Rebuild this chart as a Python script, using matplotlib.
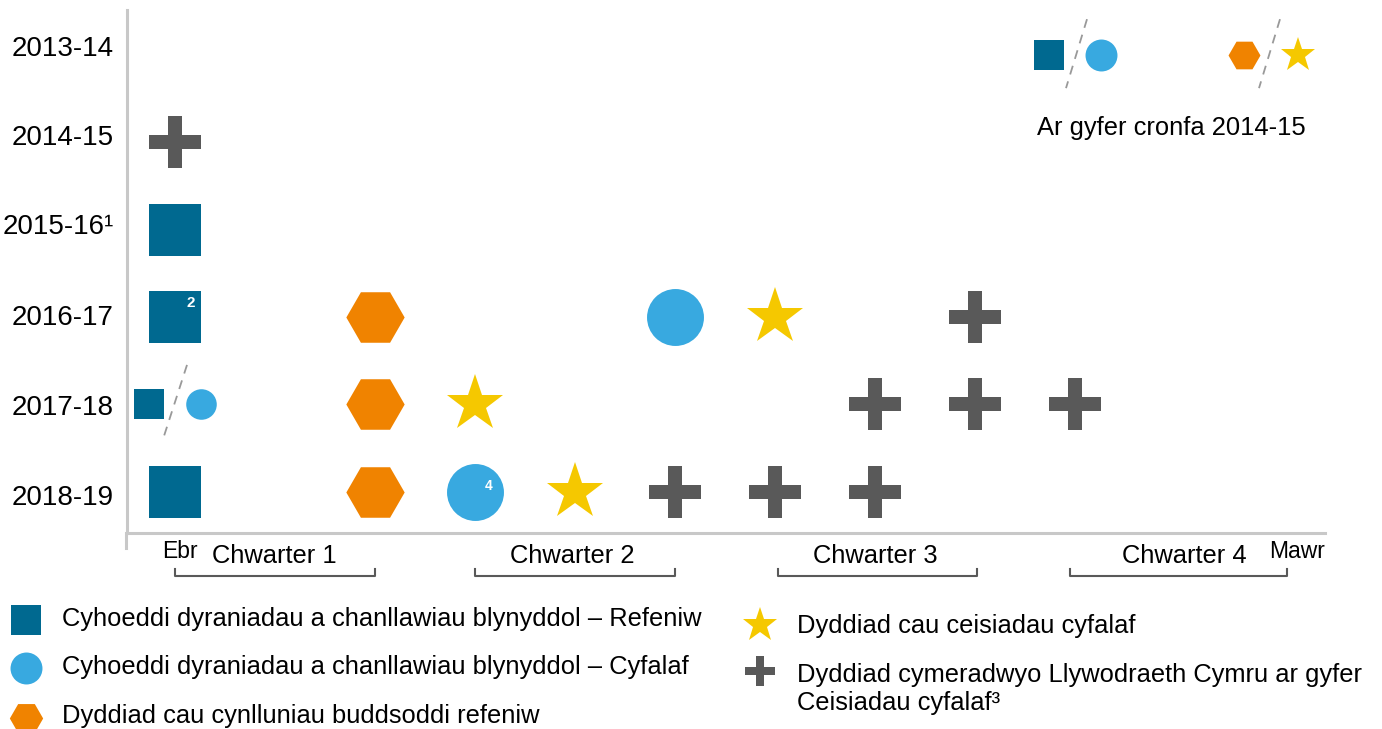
import matplotlib.pyplot as plt
import matplotlib.transforms as mtransforms
from matplotlib.path import Path

plt.rcParams['font.family'] = ['Liberation Sans', 'DejaVu Sans']

# rows (financial years) and months (0 = Ebr ... 11 = Mawr)
years = ['2013-14', '2014-15', '2015-16¹', '2016-17', '2017-18', '2018-19']

refeniw_years = ['2015-16¹', '2016-17', '2018-19']
refeniw_months = [0, 0, 0]
cyfalaf_years = ['2016-17', '2018-19']
cyfalaf_months = [5, 3]
cynlluniau_years = ['2016-17', '2017-18', '2018-19']
cynlluniau_months = [2, 2, 2]
ceisiadau_years = ['2016-17', '2017-18', '2018-19']
ceisiadau_months = [6, 3, 4]
cymeradwyo_years = ['2014-15', '2016-17', '2017-18', '2017-18', '2017-18',
                    '2018-19', '2018-19', '2018-19']
cymeradwyo_months = [0, 8, 7, 8, 9, 5, 6, 7]

# 2017-18: revenue and capital published together in April
split_year = '2017-18'
split_month = 0

quarters = ['Chwarter 1', 'Chwarter 2', 'Chwarter 3', 'Chwarter 4']
quarter_start = [0, 3, 6.03, 8.95]
quarter_end = [2, 5, 8.02, 11.12]
quarter_label_x = [0.99, 3.97, 7.0, 10.09]

legend_labels = ['Cyhoeddi dyraniadau a chanllawiau blynyddol – Refeniw',
                 'Cyhoeddi dyraniadau a chanllawiau blynyddol – Cyfalaf',
                 'Dyddiad cau cynlluniau buddsoddi refeniw',
                 'Dyddiad cau ceisiadau cyfalaf',
                 'Dyddiad cymeradwyo Llywodraeth Cymru ar gyfer\nCeisiadau cyfalaf³']

C_SQ = '#006990'
C_CI = '#38a9e0'
C_HX = '#f08300'
C_ST = '#f5c800'
C_PL = '#595959'
GRID = '#c8c8c8'
DASH = '#999999'

# plus with thinner arms than matplotlib's 'P'
a = 0.25
PLUS = Path([(-a, -1), (a, -1), (a, -a), (1, -a), (1, a), (a, a), (a, 1),
             (-a, 1), (-a, a), (-1, a), (-1, -a), (-a, -a), (-a, -1)],
            closed=True)

fig = plt.figure(figsize=(13.82, 7.29), dpi=100)
ax = fig.add_axes([127 / 1382, (729 - 533) / 729, (1325 - 127) / 1382, (533 - 10) / 729])
ov = fig.add_axes([0, 0, 1, 1], zorder=-1)
ov.set_xlim(0, 1382)
ov.set_ylim(729, 0)
ov.axis('off')

def yi(lst):
    return [years.index(y) for y in lst]

kw = dict(linestyle='none', markeredgewidth=0, clip_on=False)
ax.plot(refeniw_months, yi(refeniw_years), marker='s', ms=38, color=C_SQ, **kw)
ax.plot(cyfalaf_months, yi(cyfalaf_years), marker='o', ms=41, color=C_CI, **kw)
ax.plot(cynlluniau_months, yi(cynlluniau_years), marker='H', ms=42, color=C_HX, **kw)
ax.plot(ceisiadau_months, yi(ceisiadau_years), marker='*', ms=43, color=C_ST, **kw)
ax.plot(cymeradwyo_months, yi(cymeradwyo_years), marker=PLUS, ms=38, color=C_PL, **kw)

# split marker 2017-18
sy = years.index(split_year)
ax.plot(split_month - 0.26, sy, marker='s', ms=21, color=C_SQ, **kw)
ax.plot(split_month + 0.26, sy, marker='o', ms=22, color=C_CI, **kw)
ax.plot([split_month + 0.12, split_month - 0.12], [sy - 0.45, sy + 0.40],
        color=DASH, lw=1.3, ls=(0, (5, 4)), clip_on=False)

# footnote numbers
ax.text(0.16, years.index('2016-17') - 0.16, '2', color='white', fontsize=11,
        fontweight='bold', ha='center', va='center')
ax.text(3.14, years.index('2018-19') - 0.06, '4', color='white', fontsize=10,
        fontweight='bold', ha='center', va='center')

# 2014-15 fund note in top right
ay = 0.0
ax.plot(8.735, ay, marker='s', ms=21, color=C_SQ, **kw)
ax.plot(9.26, ay, marker='o', ms=23, color=C_CI, **kw)
ax.plot(10.69, ay, marker='H', ms=23, color=C_HX, **kw)
ax.plot(11.23, ay, marker='*', ms=26, color=C_ST, **kw)
for x0 in [9.12, 11.05]:
    ax.plot([x0, x0 - 0.21], [-0.41, 0.38], color=DASH, lw=1.3,
            ls=(0, (5, 4)), clip_on=False)
ax.text(9.96, 0.84, 'Ar gyfer cronfa 2014-15', fontsize=18.4, ha='center', va='center')

ax.set_xlim(-0.48, 11.5)
ax.set_ylim(5.475, -0.515)
ax.set_yticks(range(len(years)), years, fontsize=20)
ax.set_xticks([])
ax.tick_params(axis='y', length=0, pad=9.4)
# year labels sit on a slightly wider grid than the markers
label_shift_px = [9, 7, 5.5, 2, -1, -3.6]
for lab, d in zip(ax.get_yticklabels(), label_shift_px):
    lab.set_transform(lab.get_transform() +
                      mtransforms.ScaledTranslation(0, d / 100, fig.dpi_scale_trans))
for s in ['top', 'right']:
    ax.spines[s].set_visible(False)
for s in ['left', 'bottom']:
    ax.spines[s].set_color(GRID)
    ax.spines[s].set_linewidth(2.2)
ov.plot([126, 126], [533, 548], color=GRID, lw=2.2)

# quarter brackets
tr = mtransforms.blended_transform_factory(ax.transData, ov.transData)
for q, x0, x1, lx in zip(quarters, quarter_start, quarter_end, quarter_label_x):
    ax.plot([x0, x0, x1, x1], [569, 576, 576, 569], color=C_PL, lw=1.5,
            transform=tr, clip_on=False)
    ax.text(lx, 556, q, fontsize=18.4, ha='center', va='center', transform=tr)
ax.text(0.05, 551, 'Ebr', fontsize=16.5, ha='center', va='center', transform=tr)
ax.text(11.22, 551, 'Mawr', fontsize=16.5, ha='center', va='center', transform=tr)

# legend
ov.plot(26, 620, marker='s', ms=21, color=C_SQ, **kw)
ov.plot(26, 668, marker='o', ms=23, color=C_CI, **kw)
ov.plot(26, 718, marker='H', ms=24, color=C_HX, **kw)
ov.plot(760, 625, marker='*', ms=26, color=C_ST, **kw)
ov.plot(760, 671, marker=PLUS, ms=21, color=C_PL, **kw)
ov.text(62, 619, legend_labels[0], fontsize=18.4, va='center')
ov.text(62, 667, legend_labels[1], fontsize=18.4, va='center')
ov.text(62, 716, legend_labels[2], fontsize=18.4, va='center')
ov.text(797, 626, legend_labels[3], fontsize=18.4, va='center')
ov.text(797, 689, legend_labels[4], fontsize=18.4, va='center', linespacing=1.25)

fig.savefig('out.png', dpi=100)
